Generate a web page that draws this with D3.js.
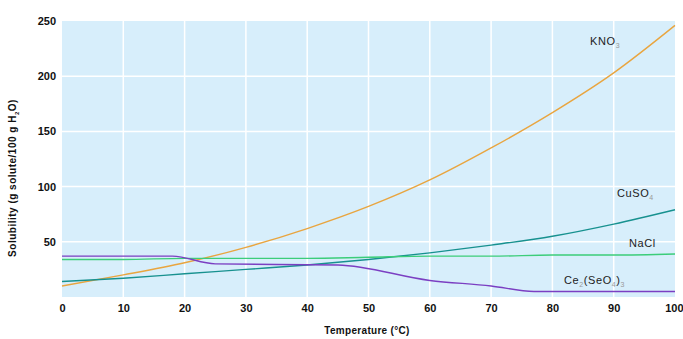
<!DOCTYPE html>
<html>
<head>
<meta charset="utf-8">
<script src="https://cdn.jsdelivr.net/npm/d3@7"></script>
<style>
  body { margin: 0; background: #fff; }
  svg text { font-family: "Liberation Sans", Arial, sans-serif; }
</style>
</head>
<body>
<svg id="chart" width="683" height="339"></svg>
<script>
// temperatures (°C) at which values were read
const temps = [0, 10, 20, 30, 40, 50, 60, 70, 80, 90, 100];
const kno3 = [10, 20, 31, 45, 62, 82, 106, 135, 167, 203, 246];
const cuso4 = [14, 17, 21, 25, 29, 34, 40, 47, 55, 66, 79];
const nacl = [34, 34, 35, 35, 35, 36, 37, 37, 38, 38, 39];
const ceTemps = [0, 18, 25, 45, 60, 70, 77, 100];
const ceso4 = [37, 37, 30, 29, 15, 10, 5, 5];

const xTicks = [0, 10, 20, 30, 40, 50, 60, 70, 80, 90, 100];
const yTicks = [50, 100, 150, 200, 250];

const margin = { top: 21, right: 8, bottom: 42, left: 62 };
const width = 683 - margin.left - margin.right;
const height = 339 - margin.top - margin.bottom;

const svg = d3.select('#chart');
const g = svg.append('g')
  .attr('transform', 'translate(' + margin.left + ',' + margin.top + ')');

const x = d3.scaleLinear().domain([0, 100]).range([0, width]);
const y = d3.scaleLinear().domain([0, 250]).range([height, 0]);

// plot background
g.append('rect')
  .attr('width', width)
  .attr('height', height)
  .attr('fill', '#d7eefb');

// grid
g.selectAll('.vgrid')
  .data(xTicks.slice(1, -1))
  .enter()
  .append('line')
  .attr('x1', d => x(d)).attr('x2', d => x(d))
  .attr('y1', 0).attr('y2', height)
  .attr('stroke', '#fff').attr('stroke-width', 1.5);

g.selectAll('.hgrid')
  .data(yTicks.slice(0, -1))
  .enter()
  .append('line')
  .attr('x1', 0).attr('x2', width)
  .attr('y1', d => y(d)).attr('y2', d => y(d))
  .attr('stroke', '#fff').attr('stroke-width', 1.5);

// axes (labels only)
const xAxis = g.append('g')
  .attr('transform', 'translate(0,' + height + ')')
  .call(d3.axisBottom(x).tickValues(xTicks).tickSize(0).tickPadding(7));
const yAxis = g.append('g')
  .call(d3.axisLeft(y).tickValues(yTicks).tickSize(0).tickPadding(6));
[xAxis, yAxis].forEach(a => {
  a.select('.domain').remove();
  a.selectAll('text')
    .attr('font-size', 11)
    .attr('font-weight', 'bold')
    .attr('fill', '#111');
});
// last x label sits at the right edge
xAxis.selectAll('text')
  .filter(d => d === 100)
  .attr('text-anchor', 'end')
  .attr('dx', 8);

// series
const line = d3.line()
  .x(d => x(d[0]))
  .y(d => y(d[1]))
  .curve(d3.curveMonotoneX);

const series = [
  { t: temps, v: kno3, color: '#e9a53f' },
  { t: temps, v: cuso4, color: '#17918f' },
  { t: temps, v: nacl, color: '#3ccd7a' },
  { t: ceTemps, v: ceso4, color: '#7b3fc2' }
];

series.forEach(s => {
  g.append('path')
    .datum(d3.zip(s.t, s.v))
    .attr('fill', 'none')
    .attr('stroke', s.color)
    .attr('stroke-width', 1.4)
    .attr('d', line);
});

// series labels: [text, isSub] parts
function label(parts, px, py) {
  const t = svg.append('text')
    .attr('x', px).attr('y', py)
    .attr('font-size', 11)
    .attr('letter-spacing', 0.6)
    .attr('fill', '#222');
  let low = false;
  parts.forEach(p => {
    const sp = t.append('tspan').text(p[0]);
    if (p[1] && !low) { sp.attr('dy', 3); low = true; }
    else if (!p[1] && low) { sp.attr('dy', -3); low = false; }
    if (p[1]) sp.attr('font-size', 7).attr('fill', '#999');
  });
}
label([['KNO'], ['3', 1]], 590, 45);
label([['CuSO'], ['4', 1]], 617, 197);
label([['NaCl']], 629, 247);
label([['Ce'], ['2', 1], ['(SeO'], ['4', 1], [')'], ['3', 1]], 564, 284);

// axis titles
svg.append('text')
  .attr('x', 367)
  .attr('y', 334)
  .attr('text-anchor', 'middle')
  .attr('font-size', 10)
  .attr('font-weight', 'bold')
  .attr('letter-spacing', 0.3)
  .attr('fill', '#111')
  .text('Temperature (°C)');

const yt = svg.append('text')
  .attr('transform', 'translate(16,178) rotate(-90)')
  .attr('text-anchor', 'middle')
  .attr('font-size', 10)
  .attr('font-weight', 'bold')
  .attr('letter-spacing', 0.5)
  .attr('fill', '#111');
yt.append('tspan').text('Solubility (g solute/100 g H');
yt.append('tspan').text('2').attr('dy', 3).attr('font-size', 6);
yt.append('tspan').text('O)').attr('dy', -3);
</script>
</body>
</html>
